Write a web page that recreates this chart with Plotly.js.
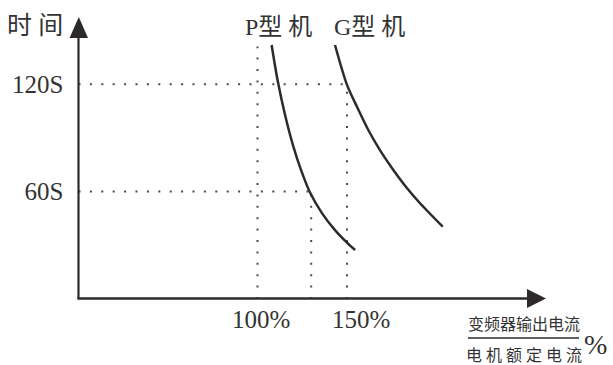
<!DOCTYPE html>
<html><head><meta charset="utf-8">
<script src="https://cdn.plot.ly/plotly-3.0.1.min.js"></script>
<style>html,body{margin:0;padding:0;background:#fff}#c{width:613px;height:365px}</style>
</head><body><div id="c"></div><script>
// ---- data ----
const pTypeX = [107.9, 111.2, 115.4, 119.8, 124.3, 129.2, 136.0, 143.3, 149.7, 154.5];
const pTypeY = [141.9, 122.3, 102.8, 86.0, 72.1, 59.8, 48.0, 38.5, 31.8, 27.4];
const gTypeX = [143.3, 150.0, 155.9, 161.9, 168.4, 175.9, 183.0, 190.8, 203.5];
const gTypeY = [141.9, 119.6, 106.7, 94.4, 83.2, 72.1, 62.6, 53.5, 40.4];
const secTicks = [60, 120];
const secLabels = ['60S', '120S'];
const pctTicks = [100, 150];
const pctLabels = ['100%', '150%'];
const guideH = [{y: 120, xEnd: 150}, {y: 60, xEnd: 130}];
const guideV = [{x: 100, yEnd: 141}, {x: 130, yEnd: 60}, {x: 150, yEnd: 120}];
const curveNames = ['P型 机', 'G型 机'];

// ---- layout helpers ----
const W = 613, H = 365;
const X0 = 78.5, Y0 = 299, S = 1.79; // origin pixel & px per unit
const px = v => v / W, py = v => 1 - v / H;
const ink = '#2e2a2a';
const txt = '#333';
const dotStyle = {color: '#4a4a4a', width: 2, dash: '2px,9.4px'};

const traces = [];
guideH.forEach(g => traces.push({x: [0, g.xEnd], y: [g.y, g.y], mode: 'lines', line: dotStyle, hoverinfo: 'skip', showlegend: false}));
guideV.forEach(g => traces.push({x: [g.x, g.x], y: [0, g.yEnd], mode: 'lines', line: dotStyle, hoverinfo: 'skip', showlegend: false}));
traces.push({x: pTypeX, y: pTypeY, mode: 'lines', line: {color: ink, width: 2.5, shape: 'spline', smoothing: 0.8}, showlegend: false});
traces.push({x: gTypeX, y: gTypeY, mode: 'lines', line: {color: ink, width: 2.5, shape: 'spline', smoothing: 0.8}, showlegend: false});

const font = 'Liberation Serif, Noto Sans CJK SC, serif';
const pa = (text, x, y, size) => ({text, x: px(x), y: py(y), xref: 'paper', yref: 'paper', xanchor: 'center', yanchor: 'middle', showarrow: false, font: {family: font, size, color: txt}});
const annotations = [
  pa('时 间', 35, 25, 25),
  pa(curveNames[0], 278, 27, 24),
  pa(curveNames[1], 369, 27, 24),
  pa('变频器输出电流', 524, 324, 16),
  pa('电 机 额 定 电 流', 524, 355, 16),
  pa('%', 595, 344, 28)
];
const pctShift = [3, 14];
pctTicks.forEach((t, i) => annotations.push({text: pctLabels[i], x: t, y: 0, xref: 'x', yref: 'y', xanchor: 'center', yanchor: 'middle', yshift: -20, xshift: pctShift[i], showarrow: false, font: {family: font, size: 25, color: txt}}));

const shapes = [
  {type: 'line', xref: 'paper', yref: 'paper', x0: px(78.5), x1: px(78.5), y0: py(299), y1: py(36), line: {color: ink, width: 2.2}},
  {type: 'line', xref: 'paper', yref: 'paper', x0: px(77.4), x1: px(530), y0: py(298.5), y1: py(298.5), line: {color: ink, width: 2.6}},
  {type: 'path', xref: 'paper', yref: 'paper', path: `M ${px(69.5)} ${py(38)} L ${px(78.8)} ${py(17)} L ${px(88)} ${py(38)} Z`, fillcolor: ink, line: {width: 0}},
  {type: 'path', xref: 'paper', yref: 'paper', path: `M ${px(527)} ${py(289)} L ${px(546)} ${py(298.5)} L ${px(527)} ${py(308)} Z`, fillcolor: ink, line: {width: 0}},
  {type: 'line', xref: 'paper', yref: 'paper', x0: px(468), x1: px(579), y0: py(338), y1: py(338), line: {color: ink, width: 1.6}}
];

const layout = {
  width: W, height: H,
  margin: {l: 0, r: 0, t: 0, b: 0},
  paper_bgcolor: '#fff', plot_bgcolor: '#fff',
  xaxis: {range: [-X0 / S, (W - X0) / S], showgrid: false, zeroline: false, showticklabels: false, showline: false, fixedrange: true},
  yaxis: {range: [-(H - Y0) / S, Y0 / S], anchor: 'free', position: X0 / W, tickvals: secTicks, ticktext: secLabels, ticks: '', ticklabelstandoff: 15,
          tickfont: {family: font, size: 25, color: txt}, showgrid: false, zeroline: false, showline: false, fixedrange: true},
  shapes: shapes,
  annotations: annotations
};
Plotly.newPlot('c', traces, layout, {staticPlot: true});
</script></body></html>
